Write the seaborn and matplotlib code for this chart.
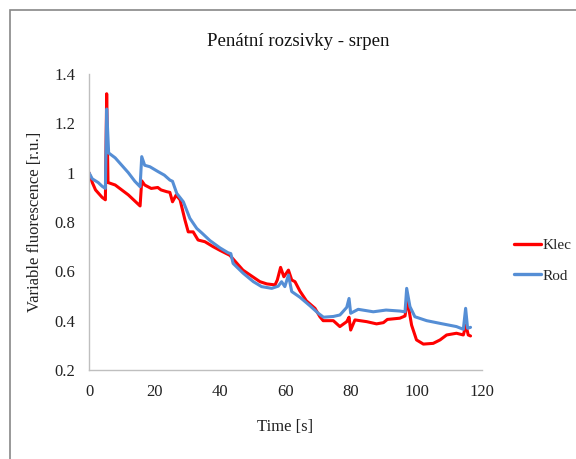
import matplotlib
matplotlib.use("Agg")
import matplotlib.pyplot as plt
import seaborn as sns
import pandas as pd
from matplotlib.patches import Rectangle

klec_t = [0, 1, 2, 3, 4, 5, 5.4, 5.8, 8, 10, 12, 14, 15.6, 16.1, 17, 19, 21, 22, 23.7, 24.7,
          25.5, 26.6, 27.8, 29.3, 30.3, 31.8, 33.3, 35.4, 37.9, 40, 43, 45, 47, 49.2, 52.2,
          54.3, 56.8, 57.5, 58.5, 59.5, 60.9, 61.9, 62.9, 64.4, 66.4, 69, 70.5, 71.5, 74.6,
          76.6, 78.7, 79.4, 79.9, 81.2, 84.8, 87.8, 89.9, 91.1, 94.9, 96.5, 97.2, 98.5, 100,
          102.1, 105.1, 107.2, 109.2, 112.2, 114.3, 115.1, 115.8, 116.5]
klec_v = [1.00, 0.96, 0.93, 0.915, 0.90, 0.89, 1.32, 0.96, 0.95, 0.93, 0.91, 0.885, 0.865, 0.967,
          0.95, 0.936, 0.94, 0.93, 0.923, 0.92, 0.882, 0.909, 0.89, 0.808, 0.76, 0.76, 0.727,
          0.72, 0.70, 0.685, 0.665, 0.635, 0.605, 0.585, 0.558, 0.549, 0.545, 0.565, 0.616,
          0.578, 0.605, 0.565, 0.558, 0.52, 0.48, 0.45, 0.416, 0.40, 0.40, 0.376, 0.396, 0.414,
          0.362, 0.403, 0.396, 0.387, 0.392, 0.405, 0.41, 0.419, 0.484, 0.382, 0.322, 0.305,
          0.308, 0.322, 0.342, 0.349, 0.342, 0.382, 0.342, 0.338]

rod_t = [0, 1, 2.8, 4, 5, 5.4, 6, 8, 10, 12, 14, 15.6, 16.1, 17, 18.6, 21, 23, 24.7, 25.5, 26.8,
         28.8, 30.8, 32.9, 34.5, 36.9, 40, 42.5, 43.3, 44, 47.1, 50.2, 52.7, 55.8, 57.8, 58.8,
         59.8, 60.9, 61.9, 64.4, 67.5, 70, 71.6, 74.6, 76.6, 77.1, 78.7, 79.4, 79.9, 82.2, 86.8,
         90.7, 94.9, 96.5, 97, 98, 99.5, 103.1, 107.2, 112.2, 114.3, 115, 115.6, 116.5]
rod_v = [1.00, 0.975, 0.96, 0.945, 0.936, 1.258, 1.08, 1.06, 1.03, 1.00, 0.965, 0.943, 1.065,
         1.03, 1.024, 1.005, 0.99, 0.97, 0.965, 0.916, 0.882, 0.815, 0.774, 0.755, 0.725, 0.695,
         0.675, 0.672, 0.632, 0.592, 0.558, 0.538, 0.531, 0.54, 0.558, 0.538, 0.585, 0.518,
         0.495, 0.46, 0.43, 0.414, 0.417, 0.423, 0.43, 0.454, 0.49, 0.43, 0.446, 0.436, 0.443,
         0.439, 0.436, 0.531, 0.457, 0.416, 0.40, 0.389, 0.376, 0.365, 0.45, 0.369, 0.373]

series_names = ["Klec", "Rod"]
colors = ["#FF0000", "#558ED5"]
x_ticks = [0, 20, 40, 60, 80, 100, 120]
y_ticks = [0.2, 0.4, 0.6, 0.8, 1.0, 1.2, 1.4]
y_tick_labels = ["0.2", "0.4", "0.6", "0.8", "1", "1.2", "1.4"]

df = pd.concat([
    pd.DataFrame({"Time": klec_t, "Value": klec_v, "Series": series_names[0]}),
    pd.DataFrame({"Time": rod_t, "Value": rod_v, "Series": series_names[1]}),
])

sns.set_style("white")
plt.rcParams["font.family"] = ["Liberation Serif", "DejaVu Serif"]

fig = plt.figure(figsize=(5.76, 4.59), dpi=100)
ax = fig.add_axes([89 / 576, 1 - 370 / 459, (482 - 89) / 576, (370 - 74) / 459])

sns.lineplot(data=df, x="Time", y="Value", hue="Series", palette=colors,
             linewidth=2.2, ax=ax, sort=False, estimator=None)

ax.set_xlim(0, 120)
ax.set_ylim(0.2, 1.4)
ax.set_xticks(x_ticks)
ax.set_yticks(y_ticks)
ax.set_yticklabels(y_tick_labels)
for s in ["top", "right"]:
    ax.spines[s].set_visible(False)
for s in ["left", "bottom"]:
    ax.spines[s].set_color("#BFBFBF")
    ax.spines[s].set_linewidth(1.0)
ax.tick_params(axis="both", direction="out", length=4, width=1.0, color="#BFBFBF",
               labelsize=12, labelcolor="#222222", pad=6)
ax.set_xlabel("Time [s]", fontsize=12, color="#222222", labelpad=14)
ax.set_ylabel("Variable fluorescence [r.u.]", fontsize=12, color="#222222")
ax.yaxis.set_label_coords(43 / 576, 1 - 222 / 459, transform=fig.transFigure)

fig.text(298 / 576, 1 - 42 / 459, "Penátní rozsivky - srpen", ha="center", va="center",
         fontsize=13.5, color="#111111")

leg = ax.legend(loc="center left", bbox_to_anchor=(506 / 576, 1 - 260.5 / 459),
                bbox_transform=fig.transFigure, frameon=False, fontsize=11,
                handlelength=1.8, handletextpad=0.1, labelspacing=1.1, borderpad=0,
                title=None)
for line in leg.get_lines():
    line.set_linewidth(2.4)

fig.patches.append(Rectangle((10 / 576, -0.05), 1.0, 1 - 10 / 459 + 0.05,
                             transform=fig.transFigure, fill=False,
                             edgecolor="#888888", linewidth=1.2))

fig.savefig("out.png", dpi=100)
